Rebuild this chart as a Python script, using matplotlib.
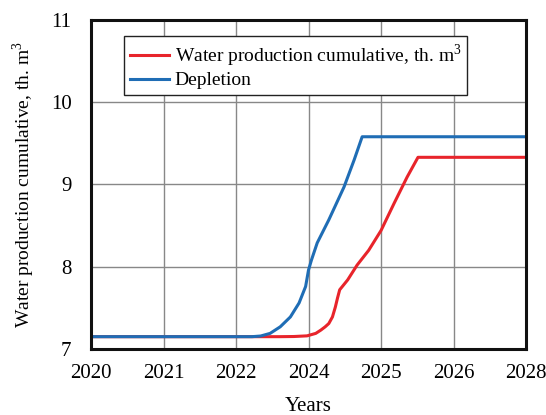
import matplotlib
matplotlib.use("Agg")
import matplotlib.pyplot as plt

plt.rcParams["font.family"] = "Liberation Serif"
plt.rcParams["mathtext.fontset"] = "custom"
plt.rcParams["mathtext.rm"] = "Liberation Serif"

# evenly spaced year positions on the x axis
year_labels = ["2020", "2021", "2022", "2024", "2025", "2026", "2028"]

water_x = [0.0, 2.6, 2.80, 2.98, 3.10, 3.17, 3.23, 3.28, 3.33, 3.37, 3.40, 3.43,
           3.54, 3.67, 3.83, 4.00, 4.18, 4.36, 4.51, 6.0]
water_y = [7.15, 7.15, 7.152, 7.16, 7.19, 7.23, 7.27, 7.31, 7.39, 7.51, 7.62, 7.72,
           7.84, 8.02, 8.20, 8.44, 8.77, 9.09, 9.33, 9.33]

depl_x = [0.0, 2.22, 2.34, 2.47, 2.61, 2.75, 2.87, 2.96, 3.00, 3.04, 3.12, 3.28,
          3.49, 3.63, 3.74, 6.0]
depl_y = [7.15, 7.15, 7.158, 7.19, 7.27, 7.39, 7.56, 7.76, 7.96, 8.08, 8.29, 8.57,
          8.97, 9.30, 9.58, 9.58]

fig = plt.figure(figsize=(5.46, 4.15), dpi=100)
ax = fig.add_axes([0.1667, 0.159, 0.7967, 0.793])

ax.plot(water_x, water_y, color="#e8242b", linewidth=2.2,
        label="Water production cumulative, th. m$^3$")
ax.plot(depl_x, depl_y, color="#1f6db5", linewidth=2.2, label="Depletion")

ax.set_xlim(0, 6)
ax.set_ylim(7, 11)
ax.set_xticks(range(len(year_labels)))
ax.set_xticklabels(year_labels)
ax.set_yticks([7, 8, 9, 10, 11])
ax.tick_params(length=0, labelsize=15, pad=11)
ax.tick_params(axis="y", pad=14)
ax.grid(color="#888888", linewidth=1.0)
ax.set_axisbelow(True)
for s in ax.spines.values():
    s.set_linewidth(2.2)
    s.set_color("#111111")

ax.set_xlabel("Years", fontsize=15, labelpad=10)
ax.set_ylabel("Water production cumulative, th. m$^3$", fontsize=14, labelpad=10)

leg = ax.legend(loc="upper left", bbox_to_anchor=(0.076, 0.95), fontsize=14,
                frameon=True, fancybox=False, framealpha=1, edgecolor="#222222",
                handlelength=2.0, handletextpad=0.3, borderpad=0.3, labelspacing=0.15,
                borderaxespad=0)
leg.get_frame().set_linewidth(1.0)

fig.savefig("out.png", dpi=100)
